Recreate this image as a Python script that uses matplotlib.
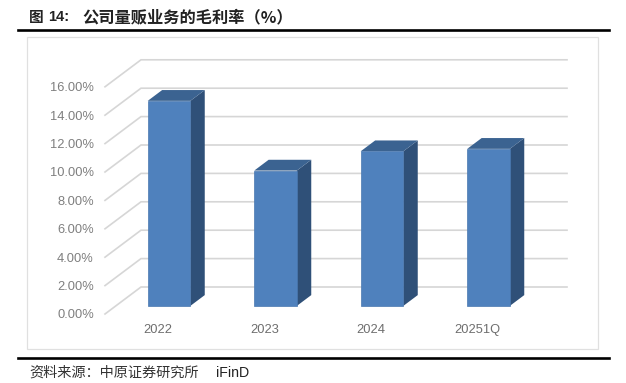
import matplotlib
matplotlib.use("Agg")
import matplotlib.pyplot as plt
from matplotlib.lines import Line2D
from matplotlib.patches import Rectangle

# dados do grafico
categorias = ["2022", "2023", "2024", "20251Q"]
margem = [14.44, 9.53, 10.89, 11.06]
ticks_y = [0, 2, 4, 6, 8, 10, 12, 14, 16]
rotulos_y = ["0.00%", "2.00%", "4.00%", "6.00%", "8.00%", "10.00%", "12.00%", "14.00%", "16.00%"]

W, H = 626, 383
CJK = "Noto Sans CJK SC"
LATIN = "Liberation Sans"

# profundidade do efeito 3D, em unidades dos eixos
PROF_X = 36 / 106.5
PROF_Y = 27 / 14.2
INI = 0.30   # onde a barra comeca dentro da profundidade
FIM = 0.70   # onde a barra termina
LARG = 0.40

fig = plt.figure(figsize=(W / 100, H / 100), dpi=100, facecolor="white")


def px_x(x):
    return x / W


def px_y(y):
    return 1 - y / H


# moldura do grafico
fig.add_artist(Rectangle((px_x(27), px_y(349)), 571 / W, 312 / H, transform=fig.transFigure,
                         facecolor="white", edgecolor="#E0E0E0", linewidth=0.9, zorder=-1))

ax = fig.add_axes([px_x(105), px_y(314), 426 / W, 227.2 / H])
ax.patch.set_visible(False)
ax.set_xlim(-0.5, 3.5)
ax.set_ylim(0, 16)
for lado in ax.spines.values():
    lado.set_visible(False)

# grade: parede do fundo e diagonal da parede lateral
for v in ticks_y:
    ax.plot([-0.5, -0.5 + PROF_X, 3.5 + PROF_X], [v, v + PROF_Y, v + PROF_Y],
            color="#D6D6D6", linewidth=1.2, clip_on=False, zorder=1, solid_joinstyle="miter")

# barras 3D
desl_x = INI * PROF_X
desl_y = INI * PROF_Y
dx = (FIM - INI) * PROF_X
dy = (FIM - INI) * PROF_Y
for i, v in enumerate(margem):
    x0 = i + desl_x - LARG / 2
    x1 = x0 + LARG
    y0 = desl_y
    y1 = desl_y + v
    ax.fill([x1, x1 + dx, x1 + dx, x1], [y0, y0 + dy, y1 + dy, y1],
            color="#2F5078", linewidth=0, clip_on=False, zorder=2)
    ax.fill([x0, x0 + dx, x1 + dx, x1], [y1, y1 + dy, y1 + dy, y1],
            color="#3B6391", linewidth=0, clip_on=False, zorder=2)

ax.bar([i + desl_x for i in range(len(margem))], margem, bottom=desl_y, width=LARG,
       color="#4F81BD", edgecolor="#4A78B0", linewidth=0.5, clip_on=False, zorder=3)

ax.set_xticks(range(len(categorias)))
ax.set_xticklabels(categorias, fontfamily=LATIN, fontsize=9.3, color="#6E6E6E")
ax.set_yticks(ticks_y)
ax.set_yticklabels(rotulos_y, fontfamily=LATIN, fontsize=9.3, color="#7F7F7F")
ax.tick_params(axis="x", length=0, pad=7)
ax.tick_params(axis="y", length=0, pad=8)

# linhas pretas de cima e de baixo
for y in (29.5, 358):
    fig.add_artist(Line2D([px_x(18), px_x(609)], [px_y(y), px_y(y)], color="black", linewidth=1.9))

# titulo
fig.text(px_x(29), px_y(17), "图", family=CJK, fontsize=10.5, fontweight="bold", color="#222222", va="center")
fig.text(px_x(48), px_y(17), "14:", family=LATIN, fontsize=10.5, fontweight="bold", color="#222222", va="center")
fig.text(px_x(82), px_y(17), "公司量贩业务的毛利率（%）", family=CJK, fontsize=11.7,
         fontweight="bold", color="#222222", va="center")

# fonte
fig.text(px_x(29), px_y(373), "资料来源：中原证券研究所", family=CJK, fontsize=10.2, color="#333333", va="center")
fig.text(px_x(216), px_y(373), "iFinD", family=LATIN, fontsize=10.2, color="#222222", va="center")

fig.savefig("out.png", dpi=100)
